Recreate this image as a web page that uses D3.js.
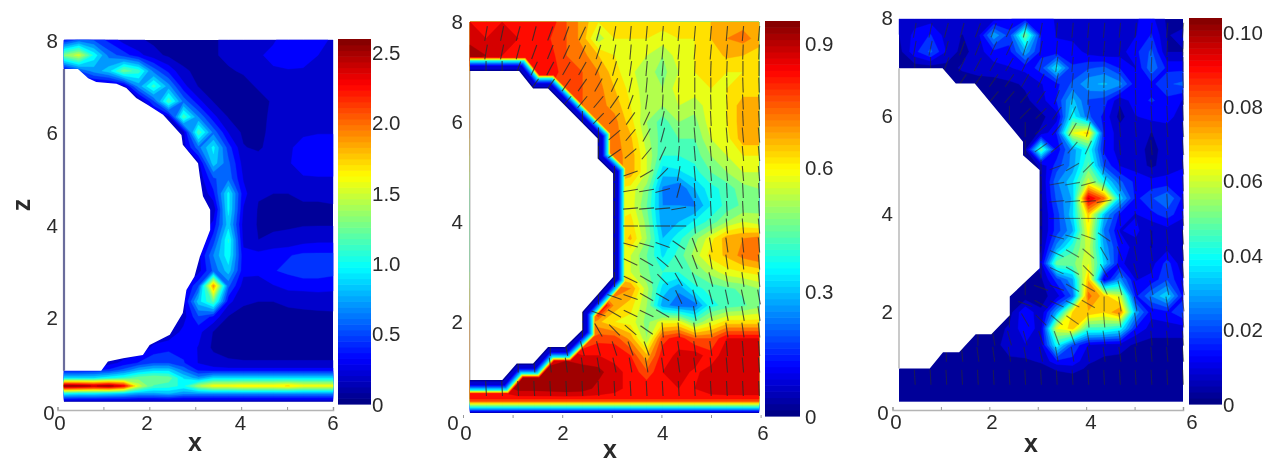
<!DOCTYPE html>
<html><head><meta charset="utf-8">
<style>html,body{margin:0;padding:0;background:#fff}svg{display:block;filter:blur(0.55px)}text{font-family:"Liberation Sans",Arial,sans-serif;fill:#2a2a2a}</style>
<script src="https://cdn.jsdelivr.net/npm/d3@7"></script></head><body><script>
const xCols=[0,1/3,2/3,1,4/3,5/3,2,7/3,8/3,3,10/3,11/3,4,13/3,14/3,5,16/3,17/3,6];
const zUpper=[8,7.67,7.33,7,6.67,6.33,6,5.67,5.33,5,4.67,4.33,4,3.67,3.33,3,2.67,2.33,2,1.67,1.33];
const zRowsA=zUpper.concat([1,.85,.67,.5,.34,.16]);
const zRowsB=zUpper.concat([1,.67,.5,.42,.3,.18]);
const zRowsC=zUpper.concat([1,.85,.67,.5,.34,.17]);

const fieldA=[
[.35,.55,.5,.35,.2,.15,.1,.08,.08,.1,.12,.15,.25,.25,.25,.3,.35,.28,.25],
[1.3,1.5,1,.6,.45,.3,.18,.1,.08,.1,.12,.15,.2,.25,.28,.33,.3,.26,.25],
[.2,.5,.7,.85,1.25,1.1,.6,.35,.15,.1,.1,.12,.14,.25,.25,.25,.25,.25,.25],
[.1,.1,.1,.1,.2,.7,1.1,.7,.3,.12,.1,.1,.1,.14,.25,.25,.25,.25,.25],
[.1,.1,.1,.1,.1,.1,.5,1.15,.6,.3,.12,.1,.1,.1,.14,.25,.25,.25,.25],
[.1,.1,.1,.1,.1,.1,.1,.2,1.15,.65,.3,.12,.1,.1,.15,.25,.25,.25,.25],
[.1,.1,.1,.1,.1,.1,.1,.1,.2,1.15,.6,.25,.1,.1,.16,.25,.25,.25,.25],
[.1,.1,.1,.1,.1,.1,.1,.1,.2,.6,.95,.45,.14,.1,.2,.25,.28,.33,.33],
[.1,.1,.1,.1,.1,.1,.1,.1,.1,.2,.85,.55,.2,.22,.25,.25,.3,.33,.33],
[.1,.1,.1,.1,.1,.1,.1,.1,.1,.15,.5,.6,.25,.2,.22,.25,.25,.25,.25],
[.1,.1,.1,.1,.1,.1,.1,.1,.1,.1,.35,.95,.3,.14,.13,.13,.14,.14,.15],
[.1,.1,.1,.1,.1,.1,.1,.1,.1,.1,.15,.95,.25,.12,.12,.12,.12,.12,.12],
[.1,.1,.1,.1,.1,.1,.1,.1,.1,.1,.3,.85,.2,.12,.12,.12,.12,.12,.12],
[.1,.1,.1,.1,.1,.1,.1,.1,.1,.1,.45,1.05,.22,.13,.14,.15,.2,.22,.22],
[.1,.1,.1,.1,.1,.1,.1,.1,.1,.2,.65,1,.3,.3,.35,.38,.42,.42,.42],
[.1,.1,.1,.1,.1,.1,.1,.1,.1,.2,.55,.85,.3,.28,.38,.42,.48,.48,.45],
[.1,.1,.1,.1,.1,.1,.1,.1,.2,.5,1.9,.55,.2,.22,.25,.3,.3,.3,.28],
[.1,.1,.1,.1,.1,.1,.1,.1,.2,.85,1.2,.3,.15,.13,.13,.16,.18,.2,.22],
[.1,.1,.1,.1,.1,.1,.1,.1,.2,.5,.35,.12,.08,.08,.08,.08,.08,.08,.08],
[.1,.1,.1,.1,.1,.1,.1,.15,.3,.3,.12,.08,.08,.08,.08,.08,.08,.08,.08],
[.1,.1,.1,.1,.1,.1,.3,.35,.35,.25,.1,.08,.08,.08,.08,.08,.08,.08,.08],
[.1,.1,.1,.2,.3,.4,.5,.5,.4,.25,.2,.15,.14,.14,.14,.14,.14,.14,.14],
[.3,.3,.35,.4,.55,.75,.85,.85,.6,.35,.3,.3,.3,.3,.3,.3,.3,.3,.3],
[.9,.9,.9,1,1.1,1.25,1.3,1.25,.9,.7,.9,.9,.9,.9,.9,.9,.9,.9,.9],
[2.6,2.55,2.45,2.55,2.3,1.5,1.15,1.1,1,1.4,1.6,1.6,1.65,1.65,1.65,1.7,1.6,1.6,1.6],
[1,.95,.95,.9,.85,.75,.75,.8,.7,.7,.7,.7,.7,.7,.7,.7,.7,.7,.7],
[.1,.1,.1,.1,.1,.1,.1,.1,.1,.1,.1,.1,.1,.1,.1,.1,.1,.1,.1]];

const fieldB=[
[.85,.85,.85,.85,.85,.83,.75,.68,.6,.62,.62,.62,.62,.62,.62,.65,.68,.68,.68],
[.87,.85,.87,.85,.84,.8,.75,.68,.52,.6,.6,.6,.58,.6,.6,.65,.7,.72,.68],
[.95,.9,.85,.85,.84,.82,.75,.72,.65,.6,.55,.55,.5,.58,.6,.62,.66,.65,.62],
[.8,.8,.8,.8,.82,.82,.78,.75,.7,.62,.56,.52,.48,.55,.6,.62,.6,.6,.6],
[.8,.8,.8,.8,.8,.8,.78,.75,.72,.65,.58,.52,.5,.58,.58,.6,.6,.62,.62],
[.8,.8,.8,.8,.8,.8,.78,.75,.72,.68,.6,.52,.5,.55,.52,.58,.6,.68,.68],
[.8,.8,.8,.8,.8,.8,.8,.75,.75,.72,.62,.5,.42,.5,.48,.58,.6,.68,.68],
[.8,.8,.8,.8,.8,.8,.8,.8,.75,.72,.66,.52,.42,.45,.45,.55,.58,.68,.68],
[.75,.75,.75,.75,.75,.75,.75,.75,.75,.72,.68,.55,.4,.4,.42,.5,.55,.6,.6],
[.7,.7,.7,.7,.7,.7,.7,.7,.7,.72,.68,.55,.32,.34,.38,.45,.5,.55,.55],
[.6,.6,.6,.6,.6,.6,.6,.6,.6,.6,.58,.48,.24,.2,.3,.38,.42,.48,.5],
[.6,.6,.6,.6,.6,.6,.6,.6,.6,.6,.58,.45,.25,.25,.24,.35,.42,.46,.48],
[.6,.6,.6,.6,.6,.6,.6,.6,.6,.6,.62,.48,.26,.3,.36,.42,.5,.55,.52],
[.6,.6,.6,.6,.6,.6,.6,.6,.6,.6,.66,.5,.3,.38,.48,.58,.68,.7,.72],
[.6,.6,.6,.6,.6,.6,.6,.6,.6,.6,.55,.45,.34,.42,.52,.62,.66,.72,.75],
[.6,.6,.6,.6,.6,.6,.6,.6,.6,.6,.55,.46,.4,.4,.46,.52,.58,.6,.62],
[.7,.7,.7,.7,.7,.7,.7,.7,.7,.72,.7,.52,.33,.26,.38,.42,.44,.46,.5],
[.75,.75,.75,.75,.75,.75,.75,.75,.95,.68,.62,.5,.27,.22,.22,.38,.42,.44,.48],
[.8,.8,.8,.8,.8,.8,.8,.8,.66,.6,.58,.48,.58,.58,.45,.55,.62,.62,.62],
[.8,.8,.8,.8,.8,.8,.8,.72,.78,.78,.68,.5,.78,.83,.75,.75,.85,.85,.85],
[.85,.85,.85,.85,.85,.85,.88,.85,.85,.84,.8,.66,.83,.86,.88,.82,.88,.88,.88],
[.85,.85,.85,.9,.9,.93,.94,.94,.92,.86,.84,.76,.85,.87,.84,.87,.88,.88,.88],
[.85,.85,.86,.92,.92,.93,.94,.93,.88,.86,.84,.84,.84,.85,.85,.87,.88,.88,.88],
[.84,.84,.84,.84,.84,.84,.84,.84,.84,.84,.84,.84,.84,.84,.84,.84,.84,.84,.84],
[.76,.76,.76,.76,.76,.76,.76,.76,.76,.76,.76,.76,.76,.76,.76,.76,.76,.76,.76],
[.38,.38,.38,.38,.38,.38,.38,.38,.38,.38,.38,.38,.38,.38,.38,.38,.38,.38,.38],
[.02,.02,.02,.02,.02,.02,.02,.02,.02,.02,.02,.02,.02,.02,.02,.02,.02,.02,.02]];

// panel 3 values, in thousandths
const fieldC=[
[8,8,8,8,8,8,8,10,12,12,10,10,8,8,8,10,12,4,4],
[5,12,16,8,5,8,30,18,50,15,10,8,8,10,8,10,16,5,6],
[3,14,22,10,3,8,14,14,30,14,12,14,8,5,8,14,22,5,5],
[2,2,2,3,6,8,8,10,12,18,38,16,20,22,15,10,25,14,14],
[2,2,2,2,2,2,3,4,6,10,14,22,30,32,28,12,14,20,22],
[2,2,2,2,2,2,2,3,4,8,16,33,20,18,6,14,16,14,10],
[2,2,2,2,2,2,2,2,3,4,8,40,22,14,3,10,12,12,8],
[2,2,2,2,2,2,2,2,2,6,16,62,70,14,8,8,5,8,8],
[2,2,2,2,2,2,2,2,4,48,12,28,42,14,8,8,3,8,10],
[2,2,2,2,2,2,2,2,2,6,18,28,48,20,10,8,4,8,10],
[2,2,2,2,2,2,2,2,2,4,25,35,60,40,22,14,12,12,12],
[2,2,2,2,2,2,2,2,2,4,22,32,95,80,35,14,20,26,14],
[2,2,2,2,2,2,2,2,2,4,18,35,70,32,14,10,14,18,12],
[2,2,2,2,2,2,2,2,2,4,18,30,65,25,10,12,5,8,5],
[2,2,2,2,2,2,2,2,2,4,28,45,60,30,14,8,5,8,5],
[2,2,2,2,2,2,2,2,2,8,50,50,62,35,12,6,8,18,6],
[2,2,2,2,2,2,2,2,2,4,18,30,72,8,28,10,12,20,10],
[2,2,2,2,2,2,2,2,2,3,8,22,80,70,60,14,26,36,14],
[2,2,2,2,2,2,2,3,15,6,30,68,72,68,78,30,12,14,20],
[2,2,2,2,2,2,3,6,14,8,62,70,45,45,40,15,8,8,8],
[2,2,2,2,2,3,3,8,10,8,40,20,10,8,8,4,3,3,3],
[2,2,2,2,3,4,3,4,4,6,14,14,6,4,3,2,2,2,2],
[2,2,2,2,2,2,2,2,2,3,6,8,4,3,2,2,2,2,2],
[2,2,2,2,2,2,2,2,2,3,3,3,2,2,2,2,2,2,2],
[4,2,2,2,2,2,2,2,2,2,2,3,2,2,2,2,2,2,2],
[2,2,2,2,2,2,2,2,2,2,2,2,2,2,2,2,2,2,2],
[2,2,2,2,2,2,2,2,2,2,2,2,2,2,2,2,2,2,2]];

const obstacleA=[[0,7.37],[.31,7.37],[.54,7.17],[.72,7.09],[1.17,7.05],[1.39,6.96],[1.61,6.74],[1.87,6.59],[2.21,6.38],[2.62,5.94],[2.65,5.73],[2.99,5.33],[3.03,5.04],[3.1,4.61],[3.26,4.32],[3.26,3.88],[3.03,3.3],[2.91,2.87],[2.73,2.58],[2.65,2.08],[2.36,1.61],[1.91,1.39],[1.76,1.17],[1.32,1.1],[.98,1.03],[.83,.83],[0,.83]];
const obstacleB=[[0,7.02],[1.02,7.02],[1.31,6.67],[1.62,6.67],[2.65,5.67],[2.65,5.27],[2.97,4.97],[2.97,2.9],[2.33,2.2],[2.33,1.84],[1.97,1.5],[1.62,1.5],[1.31,1.17],[.97,1.17],[.67,.84],[0,.84]];
const obstacleC=[[0,6.99],[.92,6.99],[1.2,6.68],[1.6,6.68],[2.62,5.49],[2.62,5.21],[2.97,4.91],[2.97,2.9],[2.34,2.32],[2.34,1.94],[1.95,1.55],[1.62,1.55],[1.27,1.18],[.93,1.18],[.65,.85],[0,.85]];

const quiverX=[1/3,2/3,1,4/3,5/3,2,7/3,8/3,3,10/3,11/3,4,13/3,14/3,5,16/3,17/3,6];
const quiverZ=[7.77,7.4,7.07,6.74,6.4,6.07,5.74,5.37,4.97,4.63,4.27,3.92,3.54,3.2,2.85,2.5,2.17,1.84,1.47,1.14,.67];
// lean of each stroke, degrees from vertical
const quiverAngle=[
[10,12,15,15,20,20,25,15,10,5,5,5,5,5,5,5,5,5],
[10,12,15,20,22,25,25,18,10,5,5,5,5,5,5,5,2,2],
[0,0,20,25,28,30,30,25,15,8,5,5,2,2,2,2,0,0],
[0,0,0,35,35,35,35,30,25,12,5,3,2,0,0,-1,-2,-2],
[0,0,0,0,0,40,40,40,35,20,8,3,0,0,-2,-3,-3,-3],
[0,0,0,0,0,0,0,45,45,35,25,12,0,-3,-3,-3,-3,-3],
[0,0,0,0,0,0,0,0,50,40,30,15,0,-5,-5,-5,-5,-5],
[0,0,0,0,0,0,0,0,55,50,40,25,5,-5,-5,-5,-5,-5],
[0,0,0,0,0,0,0,0,0,70,60,45,10,-5,-5,-5,-5,-5],
[0,0,0,0,0,0,0,0,0,80,80,75,15,-3,-3,-3,-3,-3],
[0,0,0,0,0,0,0,0,0,85,85,85,80,-3,-3,-3,-3,-3],
[0,0,0,0,0,0,0,0,0,90,90,90,90,-5,-5,-5,-5,-5],
[0,0,0,0,0,0,0,0,0,-75,-75,-70,-55,-20,-10,-8,-6,-5],
[0,0,0,0,0,0,0,0,0,-65,-60,-50,-30,-20,-10,-8,-6,-5],
[0,0,0,0,0,0,0,0,0,-65,-60,-45,-30,-20,-15,-10,-8,-6],
[0,0,0,0,0,0,0,0,-70,-70,-60,-60,-25,-15,-15,-12,-12,-10],
[0,0,0,0,0,0,0,-70,-60,-65,-65,-60,0,-10,-10,-10,-10,-8],
[0,0,0,0,0,0,0,-30,-45,-50,-55,-5,-5,-8,-8,-8,-8,-6],
[0,0,0,0,0,-10,-15,-15,-18,-20,-20,-10,-8,-8,-8,-5,-5,-5],
[0,0,0,-5,-8,-8,-8,-10,-12,-10,-10,-8,-8,-8,-5,-5,-5,-5],
[-3,-3,-3,-3,-3,-3,-3,-3,-3,-3,-3,-3,-3,-3,-3,-3,-3,-3]];

const axisTicks=[0,1,2,3,4,5,6];
const xLabels=[0,2,4,6];
const zLabels=[2,4,6,8];

const panels=[
{field:fieldA,unit:1,zRows:zRowsA,obstacle:obstacleA,max:2.6,step:.13,
 x:[64,333],z:[409,40],axisX:[57.5,333],axisY:410,axisLine:true,labelX:[60,147,240.5,333],labelXY:423,labelZ:[410,41],labelZX:58,zeroZ:[49,413],
 bar:{x:338,w:33,y0:404,y1:39},barTicks:[0,.5,1,1.5,2,2.5],barFmt:d=>d===0?"0":d.toFixed(1),barLabelX:372,title:[195,443],zTitle:[22,205],edge:"#6a6c9c",edgeW:2.2},
{field:fieldB,unit:1,zRows:zRowsB,obstacle:obstacleB,max:.955,step:.05,wall:d3.scaleLinear([0,.05,.1,.36,.9],[0,1.5,5,10,14]),quiver:.8,
 x:[470,759],z:[422,22],axisX:[463,760.6],axisY:418,axisLine:false,labelX:[466,563,662.7,763],labelXY:433,labelZ:[422,22],labelZX:463,zeroZ:[453,423],
 bar:{x:765,w:35,y0:416,y1:21},barTicks:[0,.3,.6,.9],barFmt:d=>d===0?"0":d.toFixed(1),barLabelX:805,title:[610,450],edge:"#b8b8b8",edgeW:1},
{field:fieldC,unit:.001,zRows:zRowsC,obstacle:obstacleC,max:.104,step:.0052,quiver:.6,
 x:[899,1183],z:[410,19],axisX:[892.5,1183],axisY:410,axisLine:true,labelX:[896,992,1091,1192],labelXY:422,labelZ:[410,18],labelZX:893,zeroZ:[883,413],
 bar:{x:1189,w:33,y0:404,y1:18},barTicks:[0,.02,.04,.06,.08,.1],barFmt:d=>d===0?"0":d.toFixed(2),barLabelX:1223,title:[1031,444],edge:"#bdbdbd",edgeW:1.6}
];

const jet=t=>{const c=v=>Math.round(255*Math.max(0,Math.min(1,v)));
 return `rgb(${c(1.5-Math.abs(4*t-3))},${c(1.5-Math.abs(4*t-2))},${c(1.5-Math.abs(4*t-1))})`;};

const svg=d3.select("body").append("svg").attr("width",1267).attr("height",464);
const line=d3.line();
panels.forEach((p,pi)=>{
 const X=d3.scaleLinear([0,6],p.x), Z=d3.scaleLinear([0,8],p.z);
 const nx=xCols.length, nz=p.zRows.length;
 const colAt=d3.scaleLinear(d3.range(nx),xCols).clamp(true);
 const rowAt=d3.scaleLinear(d3.range(nz),p.zRows).clamp(true);
 const path=d3.geoPath(d3.geoTransform({point(u,v){this.stream.point(X(colAt(u-.5)),Z(rowAt(v-.5)));}}));
 const values=p.field.flat().map(v=>v*p.unit);
 const thresholds=d3.range(p.step,p.max,p.step);
 const contours=d3.contours().size([nx,nz]).smooth(true).thresholds(thresholds)(values);
 const g=svg.append("g");
 g.append("rect").attr("x",X(0)).attr("y",Z(8)).attr("width",X(6)-X(0)).attr("height",Z(p.zRows[nz-1])-Z(8)).attr("fill",jet(p.step/2/p.max));
 g.selectAll("path.f").data(contours).join("path").attr("class","f").attr("d",path)
  .attr("fill",d=>jet((d.value+p.step/2)/p.max)).attr("stroke",d=>jet((d.value+p.step/2)/p.max)).attr("stroke-width",.4);
 const polyPts=p.obstacle.map(([x,z])=>[X(x),Z(z)]);
 const polyD=line(polyPts)+"Z";
 if(p.quiver){
  const len=15;
  if(!p.wall) drawQuiver();
  function drawQuiver(){
   quiverZ.forEach((z,r)=>quiverX.forEach((x,c)=>{
    const px=X(x),py=Z(z);
    if(d3.polygonContains(polyPts,[px,py]))return;
    const a=quiverAngle[r][c]*Math.PI/180,dx=Math.sin(a)*len/2,dy=Math.cos(a)*len/2;
    g.append("line").attr("x1",px-dx).attr("y1",py+dy).attr("x2",px+dx).attr("y2",py-dy)
     .attr("stroke","#2b2b2b").attr("stroke-width",1.1).attr("opacity",p.quiver);
   }));
  }
  if(p.wall){
   const defs=svg.append("defs");
   contours.slice().reverse().forEach((c,i)=>{
    const id=`wall${pi}_${i}`;
    defs.append("clipPath").attr("id",id).append("path").attr("d",path(c));
    g.append("path").attr("d",polyD).attr("fill","none").attr("clip-path",`url(#${id})`)
     .attr("stroke",jet((c.value-p.step/2)/p.max)).attr("stroke-width",2*p.wall(c.value))
     .attr("stroke-linejoin","miter").attr("stroke-miterlimit",4);
   });
   drawQuiver();
  }
 }
 g.append("path").attr("d",polyD).attr("fill","#fff");
 const zA=p.obstacle[0][1], zB=p.obstacle[p.obstacle.length-1][1];
 g.append("line").attr("x1",X(0)).attr("x2",X(0)).attr("y1",Z(zA)).attr("y2",Z(zB)).attr("stroke",p.edge).attr("stroke-width",p.edgeW);
 // axis ticks
 const ax=d3.scaleLinear([0,6],p.axisX);
 const axG=g.append("g").attr("transform",`translate(0,${p.axisY})`).call(d3.axisBottom(ax).tickValues(axisTicks).tickSize(-3).tickFormat(""));
 axG.selectAll("line").attr("stroke","#999");
 axG.select(".domain").attr("stroke",p.axisLine?"#b4b4b4":"none").attr("stroke-width",1.6);
 const lx=d3.scaleLinear(xLabels,p.labelX), lz=d3.scaleLinear([0,8],p.labelZ);
 const fs=20.5;
 g.selectAll("text.xl").data(xLabels).join("text").attr("class","xl").attr("x",lx).attr("y",p.labelXY).attr("dy",".35em").attr("text-anchor","middle").attr("font-size",fs).text(d=>d);
 g.selectAll("text.zl").data(zLabels).join("text").attr("class","zl").attr("x",p.labelZX).attr("y",lz).attr("dy",".35em").attr("text-anchor","end").attr("font-size",fs).text(d=>d);
 g.append("text").attr("x",p.zeroZ[0]).attr("y",p.zeroZ[1]).attr("dy",".35em").attr("text-anchor","middle").attr("font-size",fs).text("0");
 g.append("text").attr("x",p.title[0]).attr("y",p.title[1]).attr("dy",".33em").attr("text-anchor","middle").attr("font-size",25).attr("font-weight","bold").text("x");
 if(p.zTitle) g.append("text").attr("transform",`translate(${p.zTitle[0]},${p.zTitle[1]}) rotate(-90)`).attr("dy",".33em").attr("text-anchor","middle").attr("font-size",25).attr("font-weight","bold").text("z");
 // colour bar
 const B=d3.scaleLinear([0,p.max],[p.bar.y0,p.bar.y1]);
 const bands=d3.range(0,p.max,p.max/64);
 g.selectAll("rect.b").data(bands).join("rect").attr("class","b").attr("x",p.bar.x).attr("width",p.bar.w)
  .attr("y",d=>B(d+p.max/64)).attr("height",d=>B(d)-B(d+p.max/64)+.6).attr("fill",d=>jet((d+p.max/128)/p.max));
 g.selectAll("text.bl").data(p.barTicks).join("text").attr("class","bl").attr("x",p.barLabelX).attr("y",d=>B(d)-(d===0?-1:0)).attr("dy",".35em").attr("font-size",fs).text(p.barFmt);
});
</script></body></html>
